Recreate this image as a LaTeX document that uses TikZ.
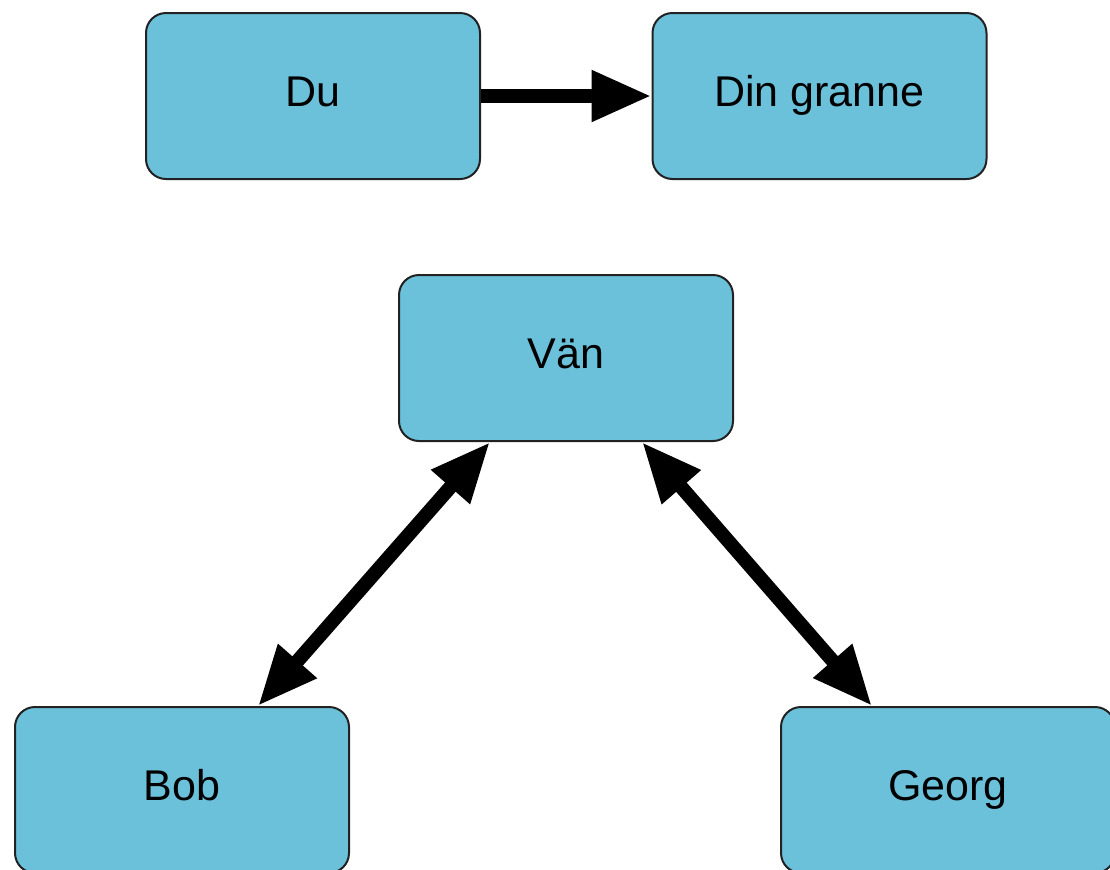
\documentclass[tikz,border=0pt]{standalone}
\usepackage{fontspec}
\setmainfont{Liberation Sans}
\usetikzlibrary{arrows.meta}
\definecolor{boxblue}{RGB}{107,193,218}
\definecolor{boxline}{RGB}{34,34,34}

\begin{document}
\begin{tikzpicture}[x=0.5pt, y=-0.5pt,
  person/.style={draw=boxline, fill=boxblue, line width=1pt,
    rounded corners=10pt, minimum width=167pt, minimum height=83pt,
    text height=15pt, text depth=5pt,
    font=\fontsize{21.5pt}{25pt}\selectfont},
  link/.style={line width=7pt,
    arrows={-Triangle[length=30pt, width=24pt]}},
  both/.style={link, arrows={Triangle[length=30pt, width=24pt]-Triangle[length=30pt, width=24pt]}}]
  \useasboundingbox[fill=white] (0,0) rectangle (1110,869);
  \node[person] (du) at (313,96) {Du};
  \node[person] (granne) at (819.5,96) {Din granne};
  \node[person] (van) at (566,358) {Vän};
  \node[person] (bob) at (182,790) {Bob};
  \node[person] (georg) at (948,790) {Georg};
  \draw[link] (du) -- (granne);
  \draw[both] ([xshift=-38pt]van.south) -- ([xshift=38pt]bob.north);
  \draw[both] ([xshift=38pt]van.south) -- ([xshift=-38pt]georg.north);
\end{tikzpicture}
\end{document}
